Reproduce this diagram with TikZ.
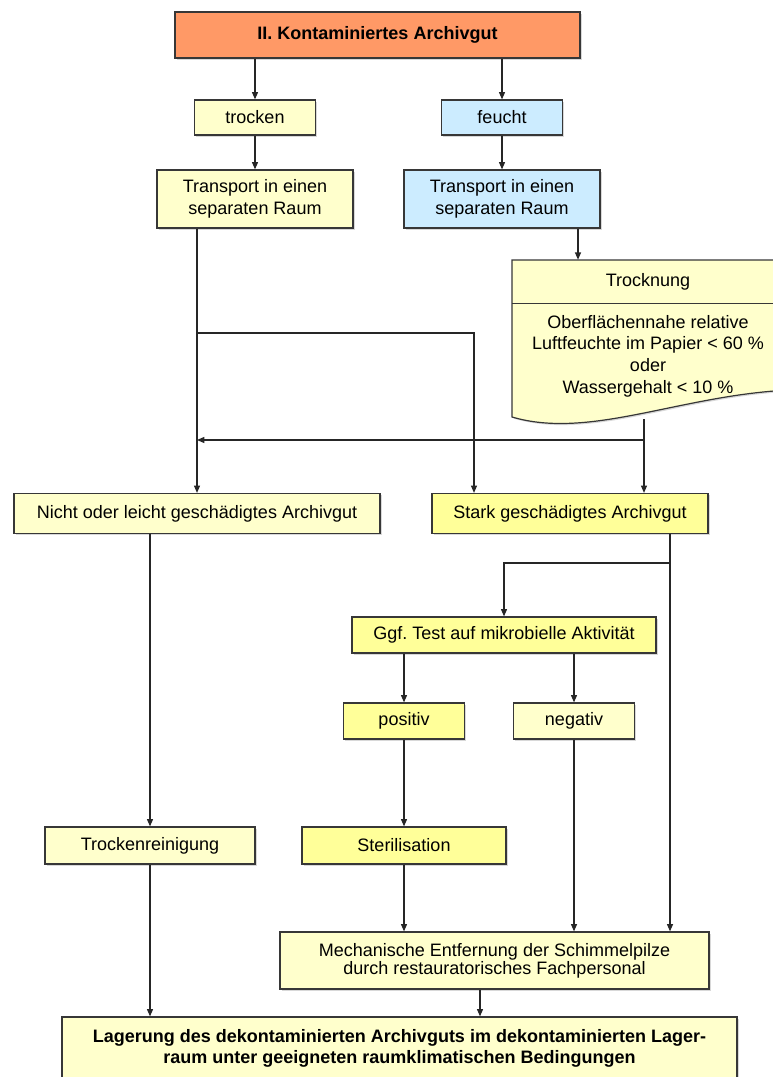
\documentclass[tikz,border=0pt]{standalone}
\usepackage{fontspec}
\setmainfont{Liberation Sans}
\usepackage{tikz}
\usetikzlibrary{arrows.meta,shadows,calc}
\definecolor{archivOrange}   {RGB}{255,153,102}
\definecolor{archivGelb}     {RGB}{255,255,204}
\definecolor{archivGelbStark}{RGB}{255,255,153}
\definecolor{archivBlau}     {RGB}{204,236,255}
\definecolor{archivRand}     {RGB}{55,55,55}

\begin{document}
\begin{tikzpicture}[x=0.75pt,y=-0.75pt,
    kasten/.style={draw=archivRand,line width=0.9pt,fill=archivGelb,align=center,
      inner sep=0pt,font=\fontsize{13.5}{17}\selectfont,
      drop shadow={shadow xshift=1.2pt,shadow yshift=-1.2pt,fill=black!30}},
    pfeil/.style={-{Triangle[length=5.5pt,width=4.5pt]},line width=0.9pt,draw=black!85}]

    \useasboundingbox (0,0) rectangle (773,1077);

    % Kopf
    \node[kasten,fill=archivOrange,line width=2pt,font=\fontsize{13.5}{17}\selectfont\bfseries,
      minimum width=303.75pt,minimum height=34.5pt] (titel) at (377.5,35) {II. Kontaminiertes Archivgut};

    % trocken / feucht
    \node[kasten,minimum width=90.75pt,minimum height=26.25pt] (trocken) at (255,117.5) {trocken};
    \node[kasten,fill=archivBlau,minimum width=90.75pt,minimum height=26.25pt] (feucht) at (502,117.5) {feucht};
    \node[kasten,minimum width=147pt,minimum height=43.5pt] (transL) at (255,199)
      {Transport in einen\\separaten Raum};
    \node[kasten,fill=archivBlau,minimum width=147pt,minimum height=43.5pt] (transR) at (502,199)
      {Transport in einen\\separaten Raum};

    % Trocknung (Dokumentform)
    \draw[draw=archivRand,line width=0.9pt,fill=archivGelb,
      drop shadow={shadow xshift=1.2pt,shadow yshift=-1.2pt,fill=black!30}]
      (512,260) -- (790,260) -- (790,390) .. controls (680,395) and (590,440) .. (512,417) -- cycle;
    \draw[draw=archivRand,line width=0.6pt] (512,303) -- (790,303);
    \node[inner sep=0pt,minimum width=204pt,minimum height=32.25pt,font=\fontsize{13.5}{17}\selectfont]
      (trocknung) at (648,281.5) {Trocknung};
    \node[inner sep=0pt,align=center,font=\fontsize{13.5}{16.3}\selectfont] (trocknungText) at (648,356)
      {Oberflächennahe relative\\Luftfeuchte im Papier < 60 \%\\oder\\Wassergehalt < 10 \%};

    % Schadensgrad
    \node[kasten,minimum width=274.5pt,minimum height=30pt] (nicht) at (197,513.5)
      {Nicht oder leicht geschädigtes Archivgut};
    \node[kasten,fill=archivGelbStark,minimum width=207pt,minimum height=30pt] (stark) at (570,513.5)
      {Stark geschädigtes Archivgut};

    % Test
    \node[kasten,fill=archivGelbStark,minimum width=228pt,minimum height=27pt] (ggf) at (504,635)
      {Ggf.\ Test auf mikrobielle Aktivität};
    \node[kasten,fill=archivGelbStark,minimum width=90.75pt,minimum height=27pt] (positiv) at (404,721) {positiv};
    \node[kasten,minimum width=90.75pt,minimum height=27pt] (negativ) at (574,721) {negativ};

    % Behandlung
    \node[kasten,minimum width=157.5pt,minimum height=27.75pt] (trockenr) at (150,845.5) {Trockenreinigung};
    \node[kasten,fill=archivGelbStark,minimum width=153pt,minimum height=27.75pt] (steril) at (404,845.5) {Sterilisation};
    \node[kasten,font=\fontsize{13.5}{13.5}\selectfont,minimum width=321.75pt,minimum height=42.75pt]
      (mech) at (494.5,960.5)
      {Mechanische Entfernung der Schimmelpilze\\durch restauratorisches Fachpersonal};
    \node[kasten,font=\fontsize{13.5}{16}\selectfont\bfseries,minimum width=506.25pt,minimum height=60pt]
      (lagerung) at (399.5,1057)
      {Lagerung des dekontaminierten Archivguts im dekontaminierten Lager-\\raum unter geeigneten raumklimatischen Bedingungen\\\mbox{}};

    % Verbindungen
    \draw[pfeil] (trocken.north |- titel.south) -- (trocken.north);
    \draw[pfeil] (feucht.north |- titel.south) -- (feucht.north);
    \draw[pfeil] (trocken) -- (transL);
    \draw[pfeil] (feucht) -- (transR);
    \draw[pfeil] ($(transR.south)+(76,0)$) coordinate (ausR) -- (ausR |- trocknung.north);

    \draw[pfeil] (nicht.north |- transL.south) -- (nicht.north);
    \coordinate (gabelL) at (197,333);
    \draw[pfeil] (gabelL) -| ($(stark.north)+(-96,0)$);
    \coordinate (trocknungAus) at (644,419);
    \draw[pfeil] (trocknungAus) -- (trocknungAus |- stark.north);
    \coordinate (rueck) at (644,440);
    \draw[pfeil] (rueck) -- (gabelL |- rueck);

    \draw[pfeil] (trockenr.north |- nicht.south) -- (trockenr.north);
    \draw[pfeil] ($(stark.south)+(100,0)$) coordinate (ausStark) -- (ausStark |- mech.north);
    \coordinate (gabelR) at (670,563);
    \draw[pfeil] (gabelR) -| (ggf.north);
    \draw[pfeil] (positiv.north |- ggf.south) -- (positiv.north);
    \draw[pfeil] (negativ.north |- ggf.south) -- (negativ.north);
    \draw[pfeil] (positiv) -- (steril);
    \draw[pfeil] (steril.south) -- (steril.south |- mech.north);
    \draw[pfeil] (negativ.south) -- (negativ.south |- mech.north);
    \draw[pfeil] (trockenr.south) -- (trockenr.south |- lagerung.north);
    \draw[pfeil] ($(mech.south)+(-14.5,0)$) coordinate (ausMech) -- (ausMech |- lagerung.north);

\end{tikzpicture}
\end{document}
